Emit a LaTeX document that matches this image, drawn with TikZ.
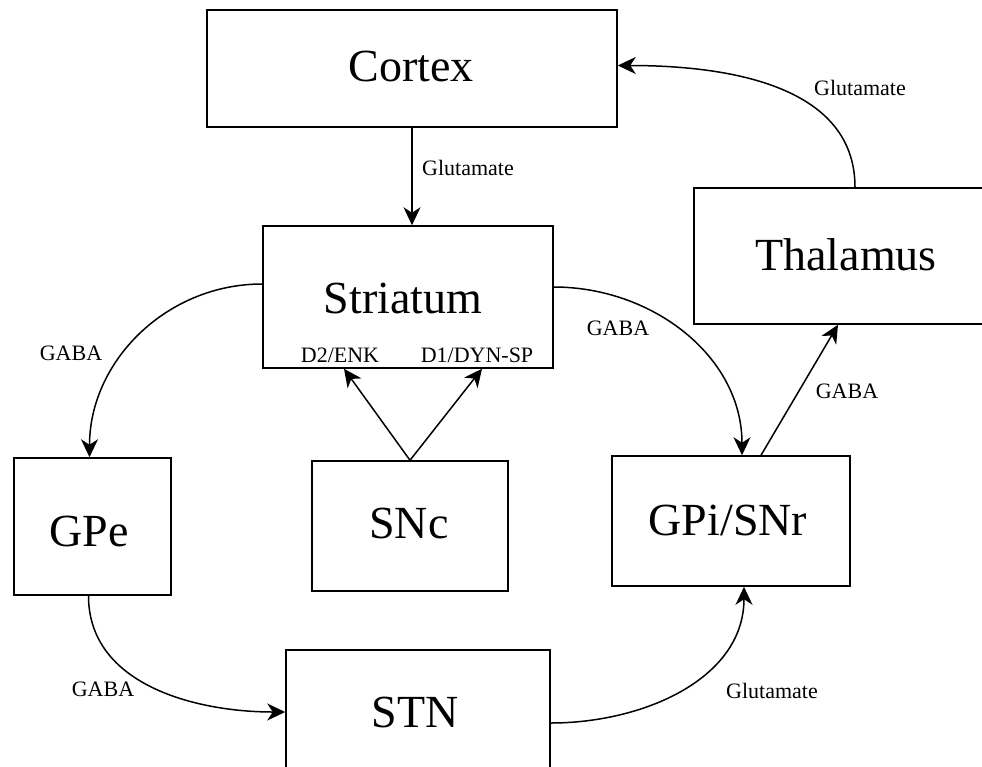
\documentclass[tikz,border=0pt]{standalone}
\usepackage{fontspec}
\setmainfont{Liberation Serif}
\usetikzlibrary{arrows.meta}
\tikzset{
 box/.style={draw, line width=1.5pt, inner sep=0pt},
 big/.style={inner sep=0pt, anchor=base, font=\fontsize{46}{50}\selectfont},
 small/.style={inner sep=0pt, anchor=base, font=\fontsize{22}{26}\selectfont},
 conn/.style={line width=1.5pt, -{Stealth[length=18pt,width=17pt,inset=5.5pt]}},
}
\begin{document}
\begin{tikzpicture}[x=1pt,y=-1pt]
\useasboundingbox (0,0) rectangle (982,766);
\clip (0,0) rectangle (982,766);
% boxes
\node[box, minimum width=410pt, minimum height=117pt] (cortex) at (412,68.5) {};
\node[box, minimum width=290pt, minimum height=142pt] (str) at (408,297) {};
\node[box, minimum width=304pt, minimum height=136pt] (thal) at (846,256) {};
\node[box, minimum width=157pt, minimum height=137pt] (gpe) at (92.5,526.5) {};
\node[box, minimum width=196pt, minimum height=130pt] (snc) at (410,526) {};
\node[box, minimum width=238pt, minimum height=130pt] (gpi) at (731,521) {};
\node[box, minimum width=264pt, minimum height=124pt] (stn) at (418,712) {};
% box labels
\node[big] (lcortex) at (411,81) {Cortex};
\node[big] (lstr) at (403,313) {Striatum};
\node[big] (lthal) at (846,270) {Thalamus};
\node[big] (lgpe) at (89,546) {GPe};
\node[big] (lsnc) at (409,538) {SNc};
\node[big] (lgpi) at (728,535) {GPi/SNr};
\node[big] (lstn) at (415,727) {STN};
\node[small] (d2) at (340,362) {D2/ENK};
\node[small] (d1) at (477,362) {D1/DYN-SP};
% connector labels
\node[small] (g1) at (468,175) {Glutamate};
\node[small] (g2) at (860,95) {Glutamate};
\node[small] (g3) at (772,698) {Glutamate};
\node[small] (a1) at (71,360) {GABA};
\node[small] (a2) at (618,335) {GABA};
\node[small] (a3) at (847,398) {GABA};
\node[small] (a4) at (103,696) {GABA};
% connectors
\draw[conn] (cortex.south) -- (cortex.south |- str.north);
\draw[conn] ([xshift=9pt]thal.north) to[out=90,in=0] ([yshift=3pt]cortex.east);
\draw[conn] ([yshift=13pt]str.west) to[out=180,in=90] ([xshift=-3pt]gpe.north);
\draw[conn] ([yshift=10pt]str.east) to[out=0,in=90] ([xshift=11pt]gpi.north);
\draw[conn] (snc.north) -- ([xshift=-64pt]str.south);
\draw[conn] (snc.north) -- ([xshift=74pt]str.south);
\draw[conn] ([xshift=30pt]gpi.north) -- ([xshift=-8pt]thal.south);
\draw[conn] ([xshift=-4pt]gpe.south) to[out=-90,in=180] (stn.west);
\draw[conn] ([yshift=-11pt]stn.east) to[out=0,in=-90] ([xshift=13pt]gpi.south);
\end{tikzpicture}
\end{document}
